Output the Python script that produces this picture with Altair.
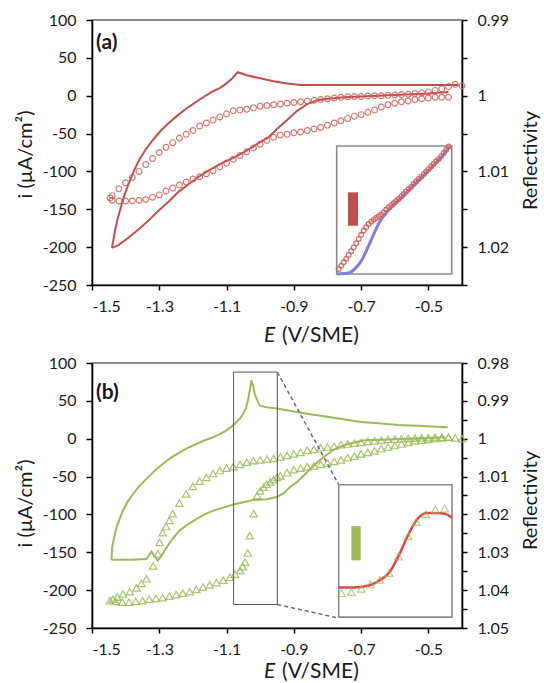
import altair as alt
import pandas as pd

FONT = "Lato"
RED = "#C0504D"
PTRED = "#D2605B"
GREEN = "#9BBB59"
BLUE = "#7F7FE0"
FITRED = "#E0474C"
INK = "#1a1a1a"

# ---------------- axis ticks ----------------
x_ticks = [-1.5, -1.3, -1.1, -0.9, -0.7, -0.5]
i_ticks = [-250, -200, -150, -100, -50, 0, 50, 100]
a_R_ticks = [0.99, 0.995, 1.0, 1.005, 1.01, 1.015, 1.02, 1.025]
b_R_ticks = [0.98, 0.985, 0.99, 0.995, 1.0, 1.005, 1.01, 1.015, 1.02, 1.025,
             1.03, 1.035, 1.04, 1.045, 1.05]

# ---------------- panel (a): current, solid line (two sweeps) ----------------
a_cv_E = [-1.441, -1.436, -1.431, -1.424, -1.416, -1.404, -1.391, -1.376, -1.361, -1.342,
          -1.322, -1.297, -1.272, -1.243, -1.213, -1.180, -1.144, -1.120, -1.104, -1.085,
          -1.067, -1.040, -1.000, -0.960, -0.920, -0.880, -0.800, -0.700, -0.600, -0.500,
          -0.410,
          -0.440, -0.500, -0.550, -0.600, -0.650, -0.700, -0.750, -0.800, -0.830, -0.860,
          -0.890, -0.920, -0.950, -0.976, -1.010, -1.045, -1.080, -1.114, -1.150, -1.183,
          -1.213, -1.243, -1.270, -1.300, -1.330, -1.360, -1.390, -1.420, -1.441]
a_cv_i = [-201, -190, -177, -163, -150, -132, -116, -100, -86, -72,
          -60, -47, -36, -25, -15, -5, 5, 10, 15, 22,
          31, 27, 23, 19, 16, 14, 14, 14, 14, 14,
          14,
          5, 3, 2, 1, 0, -1, -2, -4, -6, -11,
          -20, -32, -44, -55, -64, -74, -82, -89, -98, -107,
          -117, -127, -139, -151, -164, -176, -187, -197, -201]
a_cv_seg = [0] * 31 + [1] * 29

# ---------------- panel (a): reflectivity, circles ----------------
a_ref_E = [-0.40, -0.42, -0.44, -0.46, -0.48, -0.50, -0.52, -0.54, -0.56, -0.58,
           -0.60, -0.62, -0.64, -0.66, -0.68, -0.70, -0.72, -0.74, -0.76, -0.78,
           -0.80, -0.82, -0.84, -0.86, -0.88, -0.90, -0.92, -0.94, -0.96, -0.98,
           -1.00, -1.02, -1.04, -1.06, -1.08, -1.10, -1.12, -1.14, -1.16, -1.18,
           -1.20, -1.22, -1.24, -1.26, -1.28, -1.30, -1.32, -1.34, -1.36, -1.38,
           -1.40, -1.42, -1.44, -1.446,
           -1.44, -1.42, -1.40, -1.38, -1.36, -1.34, -1.32, -1.30, -1.28, -1.26,
           -1.24, -1.22, -1.20, -1.18, -1.16, -1.14, -1.12, -1.10, -1.08, -1.06,
           -1.04, -1.02, -1.00, -0.98, -0.96, -0.94, -0.92, -0.90, -0.88, -0.86,
           -0.84, -0.82, -0.80, -0.78, -0.76, -0.74, -0.72, -0.70, -0.68, -0.66,
           -0.64, -0.62, -0.60, -0.58, -0.56, -0.54, -0.52, -0.50, -0.48, -0.46,
           -0.44]
a_ref_R = [0.9987, 0.9985, 0.9988, 0.9991, 0.9993, 0.9995, 0.9996, 0.9997, 0.9998, 0.99985,
           0.9999, 0.99995, 1.0, 1.0, 1.00005, 1.0001, 1.0001, 1.00015, 1.0002, 1.0003,
           1.0004, 1.0005, 1.0006, 1.0007, 1.0008, 1.0009, 1.0010, 1.0011, 1.0012, 1.0013,
           1.0014, 1.0016, 1.0018, 1.0019, 1.0020, 1.0024, 1.0028, 1.0032, 1.0036, 1.0040,
           1.0046, 1.0051, 1.0056, 1.0062, 1.0068, 1.0075, 1.0083, 1.0091, 1.0100, 1.0108,
           1.0115, 1.0123, 1.0132, 1.0135,
           1.0138, 1.0139, 1.0139, 1.0139, 1.0138, 1.0137, 1.0134, 1.0131, 1.0126, 1.0122,
           1.0118, 1.0114, 1.0110, 1.0107, 1.0103, 1.0099, 1.0094, 1.0089, 1.0084, 1.0079,
           1.0074, 1.0069, 1.0064, 1.0059, 1.0055, 1.0052, 1.0051, 1.0049, 1.0048, 1.0046,
           1.0044, 1.0042, 1.0039, 1.0036, 1.0033, 1.0030, 1.0027, 1.0025, 1.0022, 1.0019,
           1.0015, 1.0012, 1.0010, 1.0008, 1.0007, 1.0005, 1.0004, 1.0003, 1.0002, 1.0002,
           1.0002]

# ---------------- panel (a) inset (normalised inset units, y from top) ----------------
a_in_pts_x = [0.017, 0.040, 0.061, 0.083, 0.104, 0.126, 0.148, 0.170, 0.191, 0.213,
              0.235, 0.256, 0.278, 0.300, 0.322, 0.343, 0.365, 0.387, 0.408, 0.430,
              0.452, 0.474, 0.496, 0.517, 0.539, 0.561, 0.583, 0.604, 0.626, 0.648,
              0.670, 0.691, 0.713, 0.735, 0.757, 0.778, 0.800, 0.822, 0.843, 0.865,
              0.887, 0.909, 0.930, 0.952, 0.974]
a_in_pts_y = [0.961, 0.935, 0.909, 0.880, 0.852, 0.822, 0.792, 0.760, 0.727, 0.694,
              0.661, 0.635, 0.609, 0.592, 0.576, 0.562, 0.549, 0.535, 0.520, 0.497,
              0.479, 0.462, 0.446, 0.430, 0.414, 0.395, 0.375, 0.356, 0.336, 0.318,
              0.297, 0.278, 0.258, 0.240, 0.220, 0.200, 0.180, 0.160, 0.140, 0.120,
              0.102, 0.080, 0.055, 0.030, 0.003]
a_in_line_x = [0.003, 0.104, 0.162, 0.220, 0.278, 0.336, 0.380, 0.423, 0.539, 0.713, 0.887, 0.983]
a_in_line_y = [1.000, 0.992, 0.956, 0.888, 0.779, 0.661, 0.583, 0.531, 0.425, 0.268, 0.110, 0.005]
a_bar = {"x0": [0.098], "x1": [0.185], "y0": [0.362], "y1": [0.623]}

# ---------------- panel (b): current, solid line (two sweeps) ----------------
b_cv_E = [-1.442, -1.440, -1.434, -1.427, -1.418, -1.408, -1.395, -1.378, -1.360, -1.338,
          -1.315, -1.289, -1.265, -1.239, -1.215, -1.190, -1.165, -1.140, -1.120, -1.100,
          -1.085, -1.070, -1.060, -1.050, -1.042, -1.036, -1.031, -1.026, -1.021, -1.016,
          -1.008, -1.001, -0.985, -0.971, -0.950, -0.900, -0.846, -0.800, -0.743, -0.700,
          -0.640, -0.590, -0.536, -0.490, -0.443,
          -0.450, -0.500, -0.560, -0.620, -0.691, -0.740, -0.780, -0.820, -0.860, -0.890,
          -0.912, -0.930, -0.951, -0.980, -1.021, -1.050, -1.080, -1.110, -1.140, -1.165,
          -1.189, -1.215, -1.239, -1.260, -1.279, -1.290, -1.304, -1.315, -1.323, -1.330,
          -1.338, -1.380, -1.420, -1.442]
b_cv_i = [-160, -143, -130, -117, -106, -95, -84, -73, -63, -53,
          -43, -33, -25, -18, -12, -7, -2, 2, 6, 11,
          16, 22, 27, 33, 41, 51, 64, 77, 70, 59,
          50, 44, 42, 41, 40, 36, 32, 29, 25, 22,
          20, 18, 17, 16, 15,
          2, 1, 0, -1, -2, -7, -14, -27, -44, -57,
          -64, -72, -77, -80, -81, -84, -87, -91, -95, -100,
          -106, -113, -121, -132, -144, -152, -161, -155, -149, -153,
          -159, -160, -160, -160]
b_cv_seg = [0] * 45 + [1] * 34

# ---------------- panel (b): reflectivity, triangles ----------------
b_ref_E = [-0.40, -0.42, -0.44, -0.46, -0.48, -0.50, -0.52, -0.54, -0.56, -0.58,
           -0.60, -0.62, -0.64, -0.66, -0.68, -0.70, -0.72, -0.74, -0.76, -0.78,
           -0.80, -0.82, -0.84, -0.86, -0.88, -0.90, -0.92, -0.94, -0.96, -0.98,
           -1.00, -1.02, -1.04, -1.06, -1.08, -1.10, -1.12, -1.14, -1.16, -1.18,
           -1.20, -1.22, -1.24, -1.26, -1.27, -1.28, -1.29, -1.299, -1.304, -1.318,
           -1.338, -1.353, -1.368, -1.388, -1.408, -1.425, -1.438,
           -1.447, -1.43, -1.41, -1.39, -1.37, -1.35, -1.33, -1.31, -1.29, -1.27,
           -1.25, -1.23, -1.21, -1.19, -1.17, -1.15, -1.13, -1.11, -1.09, -1.075,
           -1.06, -1.052, -1.045, -1.037, -1.031, -1.019, -1.009, -1.0, -0.99, -0.981,
           -0.97, -0.96, -0.95, -0.94, -0.92, -0.90, -0.88, -0.86, -0.84, -0.82,
           -0.80, -0.78, -0.76, -0.74, -0.72, -0.70, -0.68, -0.66, -0.64, -0.62,
           -0.60, -0.58, -0.56, -0.54, -0.52, -0.50, -0.48, -0.46, -0.44]
b_ref_R = [1.0, 0.9998, 0.9996, 0.9996, 0.9996, 0.9997, 0.9998, 0.9998, 0.9999, 1.0,
           1.0001, 1.0002, 1.0004, 1.0006, 1.0008, 1.0010, 1.0012, 1.0014, 1.0016, 1.0020,
           1.0022, 1.0024, 1.0028, 1.0030, 1.0036, 1.0040, 1.0044, 1.0048, 1.0052, 1.0054,
           1.0056, 1.0058, 1.0062, 1.0068, 1.0074, 1.0078, 1.0084, 1.0092, 1.0102, 1.0112,
           1.0126, 1.0146, 1.0170, 1.0198, 1.0216, 1.0232, 1.0248, 1.0274, 1.0304, 1.0336,
           1.0370, 1.0382, 1.0394, 1.0404, 1.0410, 1.0418, 1.0424,
           1.0428, 1.0430, 1.0432, 1.0432, 1.0430, 1.0428, 1.0424, 1.0422, 1.0420, 1.0416,
           1.0412, 1.0408, 1.0404, 1.0398, 1.0392, 1.0386, 1.0380, 1.0374, 1.0366, 1.0358,
           1.0348, 1.0338, 1.0326, 1.0302, 1.0256, 1.0198, 1.0150, 1.0138, 1.0128, 1.0120,
           1.0114, 1.0108, 1.0102, 1.0098, 1.0090, 1.0082, 1.0078, 1.0074, 1.0072, 1.0068,
           1.0064, 1.0060, 1.0056, 1.0050, 1.0046, 1.0040, 1.0036, 1.0032, 1.0026, 1.0022,
           1.0018, 1.0014, 1.0010, 1.0006, 1.0004, 1.0002, 1.0, 0.9998, 0.9996]

# zoom window drawn in panel (b), and its connectors to the inset
b_zoom = {"E": [-1.079], "E2": [-0.949], "i": [-219], "i2": [88]}
b_conn = {"E": [-0.949, -0.949], "E2": [-0.766, -0.766], "i": [88, -219], "i2": [-61, -237]}

# ---------------- panel (b) inset (normalised inset units, y from top) ----------------
b_in_line_x = [0.000, 0.127, 0.274, 0.362, 0.450, 0.524, 0.612, 0.686, 0.774, 0.862, 0.935, 1.000]
b_in_line_y = [0.777, 0.777, 0.760, 0.722, 0.659, 0.546, 0.382, 0.269, 0.214, 0.214, 0.219, 0.249]
b_in_pts_x = [0.024, 0.112, 0.200, 0.280, 0.362, 0.444, 0.527, 0.612, 0.686, 0.768, 0.853, 0.935]
b_in_pts_y = [0.819, 0.811, 0.786, 0.753, 0.718, 0.668, 0.542, 0.390, 0.282, 0.224, 0.187, 0.181]
b_bar = {"x0": [0.112], "x1": [0.194], "y0": [0.313], "y1": [0.572]}

assert len(a_cv_E) == len(a_cv_i) == len(a_cv_seg) and len(a_ref_E) == len(a_ref_R)
assert len(b_cv_E) == len(b_cv_i) == len(b_cv_seg) and len(b_ref_E) == len(b_ref_R)

W, H = 370, 265

X_LABEL = "(datum.value < 0 ? '-' : '') + format(abs(datum.value), '.1f')"
I_LABEL = "(datum.value < 0 ? '-' : '') + format(abs(datum.value), 'd')"
R_LABEL = "abs(datum.value * 100 - round(datum.value * 100)) < 0.001 ? format(datum.value, '~g') : ''"


def xs():
    return alt.Scale(domain=[-1.5, -0.4], nice=False, zero=False)


def ys():
    return alt.Scale(domain=[-250, 100], nice=False, zero=False)


def text(s, x, y, size=20, weight="normal", style="normal"):
    return alt.Chart(pd.DataFrame({"t": [s]})).mark_text(
        align="left", baseline="middle", font=FONT, fontSize=size,
        fontWeight=weight, fontStyle=style, color=INK
    ).encode(x=alt.value(x), y=alt.value(y), text="t:N")


def panel(tag, cv_E, cv_i, cv_seg, color, ptcolor, ref_E, ref_R, R_dom, R_ticks, shape, msize,
          inset_x, inset_y, inset_parts, extras, tag_y, xt_y, lt_y, rt_y):
    cv = pd.DataFrame({"E": cv_E, "i": cv_i, "seg": cv_seg, "k": list(range(len(cv_E)))})
    ref = pd.DataFrame({"E": ref_E, "R": ref_R})
    x_axis = alt.Axis(values=x_ticks, labelExpr=X_LABEL, title=None, tickSize=5,
                      labelPadding=8)
    i_axis = alt.Axis(values=i_ticks, labelExpr=I_LABEL, title="i (µA/cm²)", orient="left",
                      tickSize=6, labelPadding=10, titleX=-67, titleY=lt_y, titleAngle=270,
                      titleAlign="center", titleBaseline="middle")
    r_axis = alt.Axis(values=R_ticks, labelExpr=R_LABEL, title="Reflectivity", orient="right",
                      tickSize=5, labelPadding=10, titleX=68, titleY=rt_y, titleAngle=270,
                      titleAlign="center", titleBaseline="middle")
    line = alt.Chart(cv).mark_line(color=color, strokeWidth=2).encode(
        x=alt.X("E:Q", scale=xs(), axis=x_axis),
        y=alt.Y("i:Q", scale=ys(), axis=i_axis),
        detail="seg:N",
        order="k:Q",
    )
    pts = alt.Chart(ref).mark_point(shape=shape, filled=False, size=msize, strokeWidth=1.2,
                                    color=ptcolor, opacity=0.85).encode(
        x=alt.X("E:Q", scale=xs(), axis=None),
        y=alt.Y("R:Q", scale=alt.Scale(domain=R_dom, reverse=True, nice=False, zero=False),
                axis=r_axis),
    )
    isx = lambda: alt.Scale(domain=[0, 1], range=inset_x, nice=False, zero=False)
    isy = lambda: alt.Scale(domain=[0, 1], range=inset_y, nice=False, zero=False)
    box = alt.Chart(pd.DataFrame({"d": [0]})).mark_rect(
        fill="white", stroke="#8a8a8a", strokeWidth=1.6
    ).encode(
        x=alt.XDatum(0, type="quantitative", scale=isx(), axis=None),
        x2=alt.X2Datum(1),
        y=alt.YDatum(0, type="quantitative", scale=isy(), axis=None),
        y2=alt.Y2Datum(1),
    )
    layers = [line, pts] + extras(xs, ys) + [box] + inset_parts(isx, isy)
    layers += [
        text(tag, 4, tag_y, size=21, weight="bold"),
        text("E", 172, xt_y, size=21, style="italic"),
        text("(V/SME)", 190, xt_y, size=21),
    ]
    return alt.layer(*layers).resolve_scale(x="independent", y="independent").properties(
        width=W, height=H)


def a_inset(isx, isy):
    ln = pd.DataFrame({"x": a_in_line_x, "y": a_in_line_y, "k": list(range(len(a_in_line_x)))})
    pt = pd.DataFrame({"x": a_in_pts_x, "y": a_in_pts_y})
    bar = pd.DataFrame(a_bar)
    return [
        alt.Chart(ln).mark_line(color=BLUE, strokeWidth=3, interpolate="monotone").encode(
            x=alt.X("x:Q", scale=isx(), axis=None), y=alt.Y("y:Q", scale=isy(), axis=None),
            order="k:Q"),
        alt.Chart(pt).mark_point(shape="circle", filled=False, size=22, strokeWidth=1.3,
                                 color=PTRED, opacity=0.9).encode(
            x=alt.X("x:Q", scale=isx(), axis=None), y=alt.Y("y:Q", scale=isy(), axis=None)),
        alt.Chart(bar).mark_rect(color=RED).encode(
            x=alt.X("x0:Q", scale=isx(), axis=None), x2="x1:Q",
            y=alt.Y("y0:Q", scale=isy(), axis=None), y2="y1:Q"),
    ]


def b_inset(isx, isy):
    ln = pd.DataFrame({"x": b_in_line_x, "y": b_in_line_y, "k": list(range(len(b_in_line_x)))})
    pt = pd.DataFrame({"x": b_in_pts_x, "y": b_in_pts_y})
    bar = pd.DataFrame(b_bar)
    return [
        alt.Chart(ln).mark_line(color=FITRED, strokeWidth=2.5, interpolate="monotone").encode(
            x=alt.X("x:Q", scale=isx(), axis=None), y=alt.Y("y:Q", scale=isy(), axis=None),
            order="k:Q"),
        alt.Chart(pt).mark_point(shape="triangle-up", filled=False, size=60, strokeWidth=1.2,
                                 color=GREEN).encode(
            x=alt.X("x:Q", scale=isx(), axis=None), y=alt.Y("y:Q", scale=isy(), axis=None)),
        alt.Chart(bar).mark_rect(color=GREEN).encode(
            x=alt.X("x0:Q", scale=isx(), axis=None), x2="x1:Q",
            y=alt.Y("y0:Q", scale=isy(), axis=None), y2="y1:Q"),
    ]


def no_extras(xs, ys):
    return []


def b_extras(xs, ys):
    z = pd.DataFrame(b_zoom)
    c = pd.DataFrame(b_conn)
    return [
        alt.Chart(z).mark_rect(fillOpacity=0, stroke="#555555", strokeWidth=1).encode(
            x=alt.X("E:Q", scale=xs(), axis=None), x2="E2:Q",
            y=alt.Y("i:Q", scale=ys(), axis=None), y2="i2:Q"),
        alt.Chart(c).mark_rule(color="#6b6b6b", strokeWidth=1.5, strokeDash=[4, 3]).encode(
            x=alt.X("E:Q", scale=xs(), axis=None), x2="E2:Q",
            y=alt.Y("i:Q", scale=ys(), axis=None), y2="i2:Q"),
    ]


pa = panel("(a)", a_cv_E, a_cv_i, a_cv_seg, RED, PTRED, a_ref_E, a_ref_R, [0.99, 1.025],
           a_R_ticks, "circle", 34, [244.7, 359.7], [126, 254], a_inset, no_extras,
           23, 316, 134, 140)
pb = panel("(b)", b_cv_E, b_cv_i, b_cv_seg, GREEN, GREEN, b_ref_E, b_ref_R, [0.98, 1.05],
           b_R_ticks, "triangle-up", 55, [246.7, 360], [121.7, 254.1], b_inset, b_extras,
           30, 309, 140, 137)

chart = alt.vconcat(pa, pb, spacing=7).properties(
    padding={"left": 14, "top": 11, "right": 0, "bottom": 0},
    background="white",
).configure_view(
    stroke="#666666", strokeWidth=1.5
).configure_axis(
    grid=False, domainColor="black", domainWidth=1.6, tickColor="black", tickWidth=1.5,
    labelFont=FONT, labelFontSize=16, labelColor=INK,
    titleFont=FONT, titleFontSize=20, titleFontWeight="normal", titleColor=INK,
)

chart.save("out.html", embed_options={"renderer": "svg", "actions": False})
